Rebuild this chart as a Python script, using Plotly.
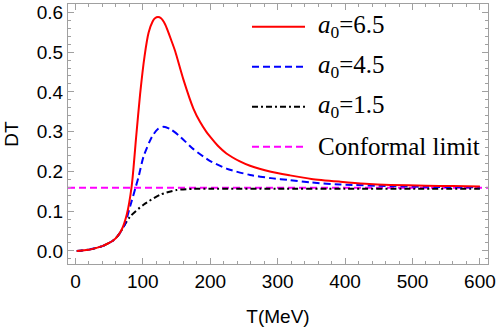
import plotly.graph_objects as go

# ---- data ----
T_red = [2, 10, 20, 30, 40, 50, 56, 62, 68.6, 76, 83.6, 90, 96, 102.6, 108.6, 114.5, 118, 122.5, 127,
         133, 143, 148, 160, 175, 185, 194, 200, 212, 224, 244, 259, 290, 318, 350, 393, 430, 467, 520, 560, 600]
DT_red = [0.0, 0.001, 0.003, 0.007, 0.012, 0.02, 0.026, 0.036, 0.053, 0.09, 0.165, 0.285, 0.395,
          0.49, 0.549, 0.577, 0.585, 0.588, 0.585, 0.570, 0.526, 0.502, 0.432, 0.358, 0.324, 0.300,
          0.287, 0.263, 0.245, 0.225, 0.214, 0.199, 0.190, 0.181, 0.174, 0.169, 0.166, 0.164, 0.163, 0.162]

T_blue = [2, 10, 20, 30, 40, 50, 56, 62, 68, 74, 81, 89, 93.8, 101, 113.5, 122, 131, 141, 153,
          175, 200, 224, 259, 290, 318, 350, 393, 467, 520, 600]
DT_blue = [0.0, 0.001, 0.003, 0.007, 0.012, 0.02, 0.026, 0.036, 0.050, 0.07, 0.111, 0.158, 0.187,
           0.237, 0.287, 0.306, 0.312, 0.306, 0.291, 0.256, 0.226, 0.207, 0.191, 0.183, 0.178,
           0.172, 0.167, 0.163, 0.161, 0.160]

T_black = [2, 10, 20, 30, 40, 50, 56, 62, 66, 81, 101, 125.5, 150, 175, 200, 300, 400, 500, 600]
DT_black = [0.0, 0.001, 0.003, 0.007, 0.012, 0.02, 0.026, 0.036, 0.045, 0.086, 0.116, 0.141,
            0.153, 0.156, 0.156, 0.156, 0.156, 0.156, 0.156]

T_conf = [-11, 612]
DT_conf = [0.159, 0.159]

legend_labels = ["<i>a</i><sub>0</sub>=6.5", "<i>a</i><sub>0</sub>=4.5",
                 "<i>a</i><sub>0</sub>=1.5", "Conformal limit"]

x_ticks = [0, 100, 200, 300, 400, 500, 600]
y_ticks = [0.0, 0.1, 0.2, 0.3, 0.4, 0.5, 0.6]
y_ticktext = ["0.0", "0.1", "0.2", "0.3", "0.4", "0.5", "0.6"]

# ---- styles ----
styles = [
    dict(color="#ff0000", width=2, dash="solid"),
    dict(color="#0000ff", width=2, dash="7px,4px"),
    dict(color="#000000", width=2, dash="6px,3px,2px,3px"),
    dict(color="#ff00ff", width=2, dash="7px,4px"),
]

fig = go.Figure()
series = [(T_red, DT_red), (T_blue, DT_blue), (T_black, DT_black), (T_conf, DT_conf)]
order = [3, 2, 1, 0]
for i in order:
    x, y = series[i]
    fig.add_trace(go.Scatter(x=x, y=y, mode="lines",
                             line=dict(shape="spline" if i < 3 else "linear", smoothing=0.7, **styles[i]),
                             showlegend=False, hoverinfo="skip"))

W, H = 498, 327
L, R, Tm, B = 68, 10, 4, 63
pw, ph = W - L - R, H - Tm - B

# manual legend (paper coordinates)
leg_y_px = [26.7, 66.7, 106.7, 146.7]
for lab, st, yp in zip(legend_labels, styles, leg_y_px):
    yy = 1 - (yp - Tm) / ph
    x0 = (252 - L) / pw
    x1 = (305 - L) / pw
    fig.add_shape(type="line", xref="paper", yref="paper", x0=x0, x1=x1, y0=yy, y1=yy,
                  line=dict(color=st["color"], width=st["width"], dash=st["dash"]))
    fig.add_annotation(xref="paper", yref="paper", x=(316 - L) / pw, y=yy, text=lab,
                       showarrow=False, xanchor="left", yanchor="middle",
                       font=dict(family="Liberation Serif", size=25, color="black"))

axis_common = dict(
    showline=True, linecolor="#a0a0a0", linewidth=1, mirror="ticks",
    ticks="inside", ticklen=6, tickwidth=1, tickcolor="#a0a0a0",
    showgrid=False, zeroline=False, automargin=False,
    tickfont=dict(family="Liberation Sans", size=19, color="black"),
)

fig.update_layout(
    width=W, height=H,
    margin=dict(l=L, r=R, t=Tm, b=B),
    plot_bgcolor="white", paper_bgcolor="white",
    xaxis=dict(range=[-11, 612], tickvals=x_ticks,
               minor=dict(dtick=20, tick0=0, ticks="inside", ticklen=3, tickcolor="#a0a0a0"),
               title=dict(text="T(MeV)", standoff=24,
                          font=dict(family="Liberation Sans", size=19, color="black")),
               **axis_common),
    yaxis=dict(range=[-0.033, 0.621], tickvals=y_ticks, ticktext=y_ticktext,
               minor=dict(dtick=0.02, tick0=0, ticks="inside", ticklen=3, tickcolor="#a0a0a0"),
               title=dict(text="DT", standoff=13,
                          font=dict(family="Liberation Sans", size=19, color="black")),
               **axis_common),
)

fig.write_html("out.html", config={"displayModeBar": False},
               post_script="document.body.style.margin='0px';")
